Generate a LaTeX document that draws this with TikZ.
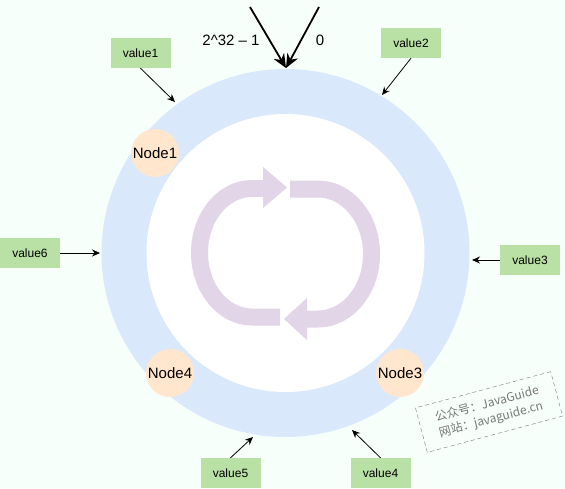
\documentclass[tikz,border=0pt]{standalone}
\usepackage{fontspec}
\setmainfont{Liberation Sans}
\newfontfamily\cjkfont{Noto Sans CJK SC}
\usetikzlibrary{arrows.meta}
\definecolor{bgmint}{RGB}{247,255,250}
\definecolor{ringblue}{RGB}{218,232,252}
\definecolor{peach}{RGB}{255,230,204}
\definecolor{leafgreen}{RGB}{185,224,165}
\definecolor{lilac}{RGB}{225,213,231}
\definecolor{markgray}{RGB}{120,120,120}

\begin{document}
\begin{tikzpicture}[x=1pt, y=-1pt, >={Stealth[length=8pt,width=7pt]},
  valuebox/.style={fill=leafgreen, minimum width=60pt, minimum height=30pt, inner sep=0pt, font=\fontsize{12}{14}\selectfont},
  ringnode/.style={circle, fill=peach, minimum size=48pt, inner sep=0pt, font=\fontsize{15}{18}\selectfont},
  keyarrow/.style={->, line width=0.8pt},
  entryarrow/.style={-{Stealth[length=14pt,width=12pt]}, line width=1.8pt},
  spin/.style={lilac, line width=17pt}]
  \fill[bgmint] (0,0) rectangle (565,488);
  % hash ring
  \fill[ringblue] (285.5,253) circle (184pt);
  \fill[white] (285.5,253) circle (139pt);
  % circular arrows in the middle
  \draw[spin] (263,188.5) -- (252,188.5) arc[start angle=90, end angle=270, x radius=52.5pt, y radius=64.25pt] -- (280,317);
  \fill[lilac] (263,167) -- (287,187.5) -- (263,208) -- cycle;
  \draw[spin] (290,189) -- (318,189) arc[start angle=90, end angle=-90, x radius=53.5pt, y radius=65pt] -- (307,319);
  \fill[lilac] (307,298) -- (284,319) -- (307,340) -- cycle;
  % start and end of the hash space
  \coordinate (maxin) at (250,7);
  \coordinate (zeroin) at (319,7);
  \coordinate (ringtop) at (286,68);
  \draw[entryarrow] (maxin) -- (ringtop);
  \draw[entryarrow] (zeroin) -- (ringtop);
  \node[font=\fontsize{15}{18}\selectfont] (maxlabel) at (231,40) {2\textasciicircum 32 – 1};
  \node[font=\fontsize{15}{18}\selectfont] (zerolabel) at (320,40) {0};
  % servers
  \node[ringnode] (node1) at (155,153) {Node1};
  \node[ringnode] (node4) at (170,373) {Node4};
  \node[ringnode] (node3) at (400,373) {Node3};
  % keys
  \node[valuebox] (v1) at (140.5,53) {value1};
  \node[valuebox] (v2) at (411,43) {value2};
  \node[valuebox] (v3) at (530,260) {value3};
  \node[valuebox] (v4) at (380.5,473) {value4};
  \node[valuebox] (v5) at (230.5,473) {value5};
  \node[valuebox] (v6) at (30,253) {value6};
  \coordinate (v1end) at (175,102);
  \coordinate (v2end) at (382,95);
  \coordinate (v3end) at (472,260);
  \coordinate (v4end) at (352,430);
  \coordinate (v5end) at (253,437);
  \coordinate (v6end) at (100,253);
  \draw[keyarrow] (v1.south) -- (v1end);
  \draw[keyarrow] (v2.south) -- (v2end);
  \draw[keyarrow] (v3.west) -- (v3end);
  \draw[keyarrow] (v4.north) -- (v4end);
  \draw[keyarrow] (v5.north) -- (v5end);
  \draw[keyarrow] (v6.east) -- (v6end);
  % watermark
  \node[draw=markgray, dash pattern=on 4pt off 3pt, rotate=15, text=markgray, align=left, minimum width=140pt, minimum height=46pt, font=\cjkfont\fontsize{12}{16}\selectfont] (mark) at (489,412) {公众号：JavaGuide\\网站：javaguide.cn};
\end{tikzpicture}
\end{document}
